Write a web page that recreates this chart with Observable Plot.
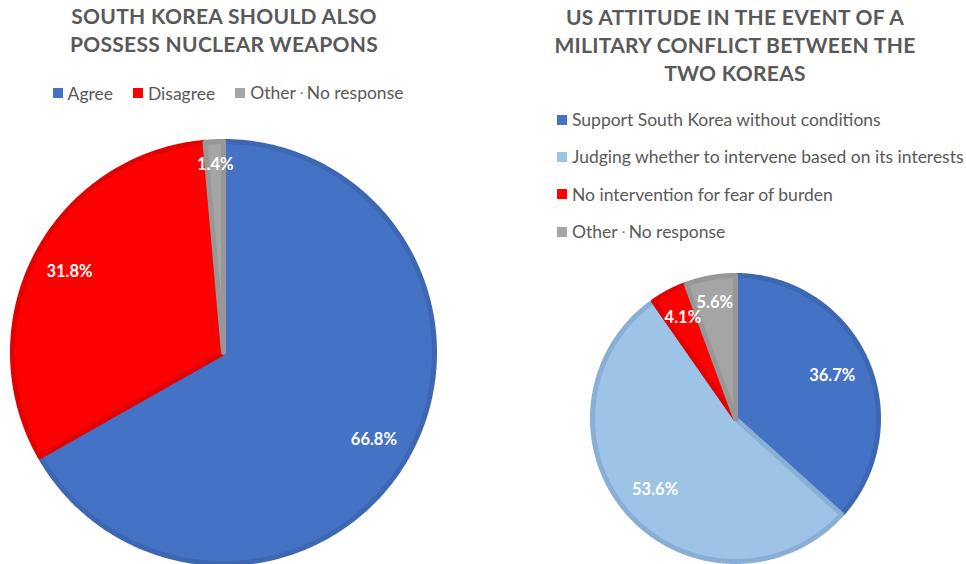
<!DOCTYPE html>
<html>
<head>
<meta charset="utf-8">
<script src="https://cdn.jsdelivr.net/npm/d3@7"></script>
<script src="https://cdn.jsdelivr.net/npm/@observablehq/plot@0.6"></script>
<style>
  html, body { margin: 0; padding: 0; background: #fff; overflow: hidden; }
  #root { position: relative; width: 966px; height: 564px; font-family: Lato, "Open Sans", sans-serif; color: #595959; }
  .title { position: absolute; text-align: center; font-weight: bold; font-size: 21px; letter-spacing: 0.3px; line-height: 28px; color: #595959; }
  .legend { position: absolute; font-size: 17.5px; color: #595959; }
  .legend .item { display: flex; align-items: center; white-space: nowrap; line-height: 21px; }
  .legend .sw { width: 10px; height: 10px; margin-right: 5px; flex: none; }
  .legend .dot { font-size: 0.6em; vertical-align: 0.15em; }
  .panel { position: absolute; }
</style>
</head>
<body>
<div id="root"></div>
<script>
// ---- data ----
const leftTitle = ["SOUTH KOREA SHOULD ALSO", "POSSESS NUCLEAR WEAPONS"];
const leftCategories = ["Agree", "Disagree", "Other・No response"];
const leftValues = [66.8, 31.8, 1.4];

const rightTitle = ["US ATTITUDE IN THE EVENT OF A", "MILITARY CONFLICT BETWEEN THE", "TWO KOREAS"];
const rightCategories = [
  "Support South Korea without conditions",
  "Judging whether to intervene based on its interests",
  "No intervention for fear of burden",
  "Other・No response"
];
const rightValues = [36.7, 53.6, 4.1, 5.6];

// ---- styles ----
const leftFills = ["#4472C4", "#FF0000", "#A5A5A5"];
const leftBorders = ["#3D66B3", "#E20000", "#979797"];
const rightFills = ["#4472C4", "#9DC3E6", "#FF0000", "#A5A5A5"];
const rightBorders = ["#3D66B3", "#8AAFD6", "#E20000", "#979797"];

const root = document.getElementById("root");
const labelSize = 16.5;
const ctx = document.createElement("canvas").getContext("2d");
ctx.font = `bold ${labelSize}px Lato`;

function piePlot({values, fills, borders, width, height, cx, cy, r, margin}) {
  const arcs = d3.pie().sort(null).value(d => d)(values);
  const marks = [];
  arcs.forEach((a, i) => {
    const pts = [{x: 0, y: 0}];
    const n = Math.max(2, Math.ceil((a.endAngle - a.startAngle) / 0.01));
    for (let k = 0; k <= n; k++) {
      const t = a.startAngle + (a.endAngle - a.startAngle) * k / n;
      pts.push({x: Math.sin(t), y: Math.cos(t)});
    }
    marks.push(Plot.line(pts, {x: "x", y: "y", curve: "linear-closed", fill: fills[i], stroke: borders[i], strokeWidth: 5}));
  });
  const labels = arcs.map(a => {
    const mid = (a.startAngle + a.endAngle) / 2;
    const text = a.data.toFixed(1) + "%";
    const w = ctx.measureText(text).width;
    const h = labelSize;
    const ux = Math.sin(mid), uy = Math.cos(mid);
    const ext = Math.abs(ux) * w / 2 + Math.abs(uy) * h * 0.6;
    const dist = (r - margin - ext) / r;
    return {x: ux * dist, y: uy * dist, text};
  });
  marks.push(Plot.text(labels, {x: "x", y: "y", text: "text", fill: "white", fontWeight: "bold", fontSize: labelSize, fontFamily: "Lato"}));
  return Plot.plot({
    width, height,
    margin: 0,
    x: {domain: [-1, 1], range: [cx - r, cx + r], axis: null},
    y: {domain: [-1, 1], range: [cy + r, cy - r], axis: null},
    marks
  });
}

function addTitle(lines, left, width, top) {
  const d = document.createElement("div");
  d.className = "title";
  d.style.left = left + "px"; d.style.width = width + "px"; d.style.top = top + "px";
  d.innerHTML = lines.join("<br>");
  root.appendChild(d);
}

function legendItem(label, color) {
  const it = document.createElement("div");
  it.className = "item";
  const sw = document.createElement("span");
  sw.className = "sw"; sw.style.background = color;
  const tx = document.createElement("span");
  label.split("・").forEach((part, k) => {
    if (k > 0) {
      const dot = document.createElement("span");
      dot.className = "dot"; dot.textContent = "・";
      tx.appendChild(dot);
    }
    tx.appendChild(document.createTextNode(part));
  });
  it.appendChild(sw); it.appendChild(tx);
  return it;
}

// left panel
addTitle(leftTitle, 0, 448, 2);
{
  const lg = document.createElement("div");
  lg.className = "legend";
  lg.style.left = "0px"; lg.style.width = "456px"; lg.style.top = "82px";
  lg.style.display = "flex"; lg.style.justifyContent = "center"; lg.style.gap = "20px";
  leftCategories.forEach((c, i) => lg.appendChild(legendItem(c, leftFills[i])));
  root.appendChild(lg);
}
{
  const p = document.createElement("div");
  p.className = "panel"; p.style.left = "0px"; p.style.top = "120px";
  p.appendChild(piePlot({values: leftValues, fills: leftFills, borders: leftBorders, width: 450, height: 444, cx: 223, cy: 232, r: 211, margin: 12}));
  root.appendChild(p);
}

// right panel
addTitle(rightTitle, 520, 430, 3);
{
  const lg = document.createElement("div");
  lg.className = "legend";
  lg.style.left = "557px"; lg.style.top = "109px";
  lg.style.display = "flex"; lg.style.flexDirection = "column"; lg.style.gap = "16.3px";
  rightCategories.forEach((c, i) => lg.appendChild(legendItem(c, rightFills[i])));
  root.appendChild(lg);
}
{
  const p = document.createElement("div");
  p.className = "panel"; p.style.left = "520px"; p.style.top = "264px";
  p.appendChild(piePlot({values: rightValues, fills: rightFills, borders: rightBorders, width: 446, height: 300, cx: 215, cy: 154, r: 143, margin: 12}));
  root.appendChild(p);
}
</script>
</body>
</html>
